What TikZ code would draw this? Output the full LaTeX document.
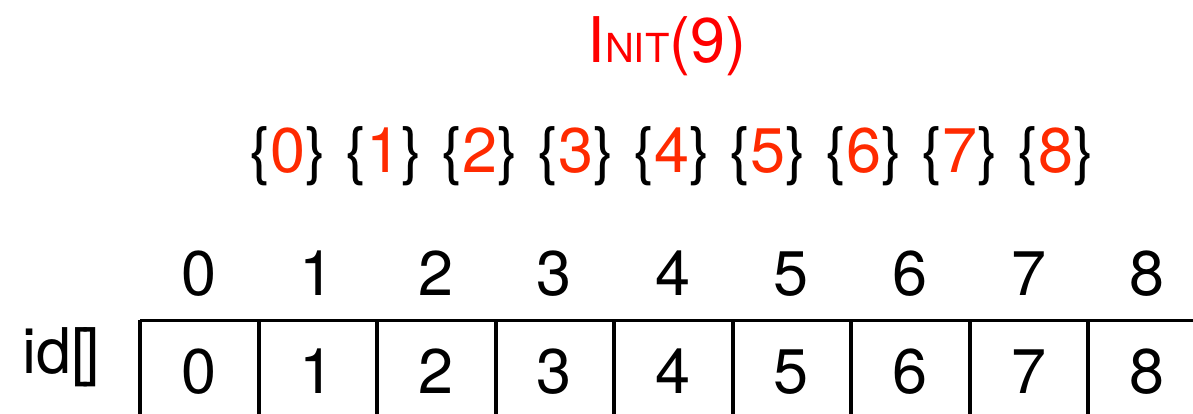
\documentclass[tikz,border=0pt]{standalone}
\usepackage{fontspec}
\setmainfont{TeX Gyre Heros}
\usepackage{tikz}
\usetikzlibrary{positioning}
\definecolor{initred}{HTML}{FF0000}
\definecolor{setred}{HTML}{FF2A00}

\begin{document}
\begin{tikzpicture}[x=1pt,y=-1pt,
  every node/.style={inner sep=0pt,anchor=base},
  bigtext/.style={font=\fontsize{63}{70}\selectfont},
  cellline/.style={line width=4pt},
  topline/.style={line width=2.6pt}]
  \useasboundingbox (0,0) rectangle (1193,413);
  % title
  \node[bigtext,text=initred] (init) at (667,62) {I{\fontsize{40}{44}\selectfont NIT}(9)};
  % singleton sets
  \foreach \i in {0,...,8}
    \node[bigtext] (set\i) at (288+96*\i,172) {\{\textcolor{setred}{\i}\}};
  % indices and contents of id[]
  \foreach \i in {0,...,8} {
    \node[bigtext] (idx\i) at (199+118.5*\i,295) {\i};
    \node[bigtext] (val\i) at (199+118.5*\i,393) {\i};
  }
  \node[bigtext] (idname) at (61,373) {id[\kern-7pt]};
  % array cells
  \draw[topline] (140,320.5) -- (1193,320.5);
  \foreach \i in {0,...,8}
    \draw[cellline] (140+118.5*\i,320) -- (140+118.5*\i,420);
\end{tikzpicture}
\end{document}
